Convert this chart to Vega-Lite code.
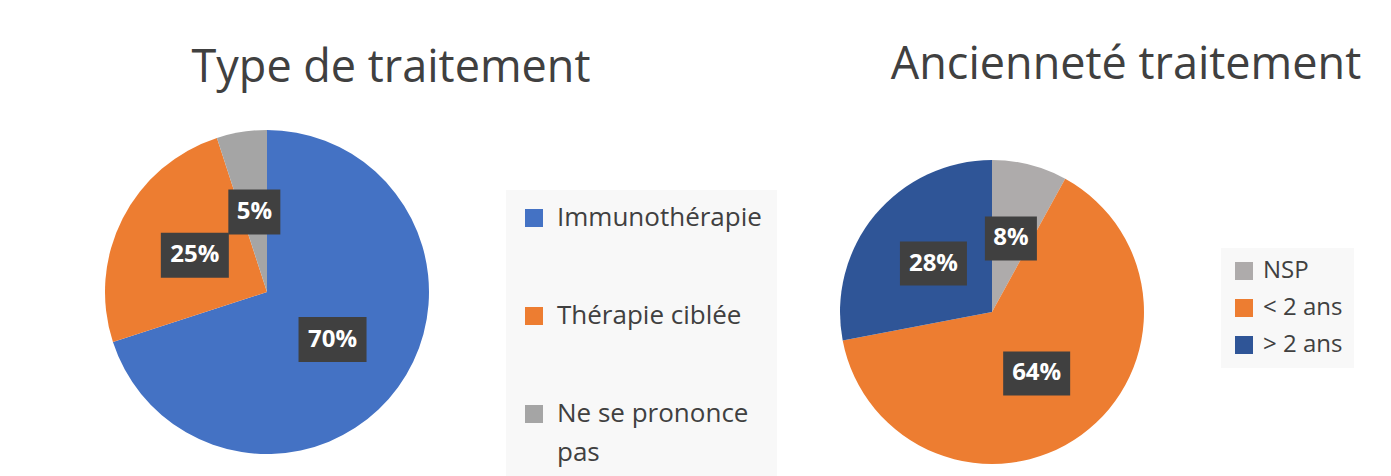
{
  "$schema": "https://vega.github.io/schema/vega-lite/v6.json",
  "background": "white",
  "padding": {"left": 105, "top": 43, "right": 0, "bottom": 0},
  "config": {"view": {"stroke": null}, "font": "Open Sans", "style": {"guide-label": {"lineHeight": 39}}},
  "spacing": 411,
  "bounds": "flush",
  "resolve": {"scale": {"color": "independent", "theta": "independent", "x": "independent", "y": "independent", "shape": "independent", "size": "independent"}, "legend": {"color": "independent"}},
  "hconcat": [
    {
      "width": 324,
      "height": 324,
      "title": {"text": "Type de traitement", "fontSize": 45, "font": "Open Sans", "fontWeight": "normal", "color": "#404040", "anchor": "middle", "frame": "group", "dx": 124, "baseline": "alphabetic", "offset": 3},
      "data": {"values": [
        {"categorie": "Immunothérapie", "part": 0.70, "ordre": 1},
        {"categorie": "Thérapie ciblée", "part": 0.25, "ordre": 2},
        {"categorie": "Ne se prononce pas", "part": 0.05, "ordre": 3}
      ]},
      "encoding": {
        "theta": {"field": "part", "type": "quantitative", "stack": true},
        "order": {"field": "ordre", "type": "quantitative"}
      },
      "layer": [
        {
          "mark": {"type": "arc", "outerRadius": 162},
          "encoding": {
            "color": {
              "field": "categorie", "type": "nominal",
              "scale": {"domain": ["Immunothérapie", "Thérapie ciblée", "Ne se prononce pas"], "range": ["#4472C4", "#ED7D31", "#A5A5A5"]},
              "legend": {
                "orient": "none", "legendX": 401, "legendY": 60, "title": null,
                "symbolType": "square", "symbolSize": 324, "symbolStrokeWidth": 0,
                "labelFontSize": 26, "labelFont": "Open Sans", "labelColor": "#404040",
                "fillColor": "#f8f8f8", "padding": 15, "rowPadding": 72, "labelOffset": 10, "labelLimit": 400,
                "labelExpr": "datum.label === 'Ne se prononce pas' ? ['Ne se prononce', 'pas'] : datum.label"
              }
            }
          }
        },
        {
          "transform": [
            {"joinaggregate": [{"op": "sum", "field": "part", "as": "total"}]},
            {"window": [{"op": "sum", "field": "part", "as": "cumul"}], "sort": [{"field": "ordre", "order": "ascending"}], "frame": [null, 0]},
            {"calculate": "2 * PI * (datum.cumul - datum.part / 2) / datum.total", "as": "angle"},
            {"calculate": "sin(datum.angle)", "as": "px"},
            {"calculate": "cos(datum.angle)", "as": "py"}
          ],
          "mark": {"type": "point", "filled": true, "color": "#404040", "opacity": 1, "strokeWidth": 0},
          "encoding": {
            "theta": null,
            "x": {"field": "px", "type": "quantitative", "scale": {"domain": [-2, 2], "nice": false, "zero": false}, "axis": null},
            "y": {"field": "py", "type": "quantitative", "scale": {"domain": [-2, 2], "nice": false, "zero": false}, "axis": null},
            "shape": {"condition": {"test": "datum.part < 0.1", "value": "M-1,-0.865L1,-0.865L1,0.865L-1,0.865Z"}, "value": "M-1,-0.662L1,-0.662L1,0.662L-1,0.662Z"},
            "size": {"condition": {"test": "datum.part < 0.1", "value": 2704}, "value": 4624}
          }
        },
        {
          "mark": {"type": "text", "font": "Open Sans", "fontWeight": "bold", "fontSize": 24, "color": "white", "baseline": "middle", "align": "center"},
          "encoding": {
            "radius": {"value": 81},
            "text": {"field": "part", "type": "quantitative", "format": ".0%"}
          }
        }
      ]
    },
    {
      "width": 304,
      "height": 364,
      "title": {"text": "Ancienneté traitement", "fontSize": 45, "font": "Open Sans", "fontWeight": "normal", "color": "#404040", "anchor": "middle", "frame": "group", "dx": 134, "baseline": "alphabetic", "offset": 6},
      "data": {"values": [
        {"categorie": "NSP", "part": 0.08, "ordre": 1},
        {"categorie": "< 2 ans", "part": 0.64, "ordre": 2},
        {"categorie": "> 2 ans", "part": 0.28, "ordre": 3}
      ]},
      "encoding": {
        "theta": {"field": "part", "type": "quantitative", "stack": true},
        "order": {"field": "ordre", "type": "quantitative"}
      },
      "layer": [
        {
          "mark": {"type": "arc", "outerRadius": 152},
          "encoding": {
            "color": {
              "field": "categorie", "type": "nominal",
              "scale": {"domain": ["NSP", "< 2 ans", "> 2 ans"], "range": ["#AEABAB", "#ED7D31", "#2F5597"]},
              "legend": {
                "orient": "none", "legendX": 381, "legendY": 118, "title": null,
                "symbolType": "square", "symbolSize": 324, "symbolStrokeWidth": 0,
                "labelFontSize": 24, "labelFont": "Open Sans", "labelColor": "#404040",
                "fillColor": "#f8f8f8", "padding": 11, "rowPadding": 13, "labelOffset": 7, "labelLimit": 400
              }
            }
          }
        },
        {
          "transform": [
            {"joinaggregate": [{"op": "sum", "field": "part", "as": "total"}]},
            {"window": [{"op": "sum", "field": "part", "as": "cumul"}], "sort": [{"field": "ordre", "order": "ascending"}], "frame": [null, 0]},
            {"calculate": "2 * PI * (datum.cumul - datum.part / 2) / datum.total", "as": "angle"},
            {"calculate": "sin(datum.angle)", "as": "px"},
            {"calculate": "cos(datum.angle)", "as": "py"}
          ],
          "mark": {"type": "point", "filled": true, "color": "#404040", "opacity": 1, "strokeWidth": 0},
          "encoding": {
            "theta": null,
            "x": {"field": "px", "type": "quantitative", "scale": {"domain": [-2, 2], "nice": false, "zero": false}, "axis": null},
            "y": {"field": "py", "type": "quantitative", "scale": {"domain": [-2.395, 2.395], "nice": false, "zero": false}, "axis": null},
            "shape": {"condition": {"test": "datum.part < 0.1", "value": "M-1,-0.846L1,-0.846L1,0.846L-1,0.846Z"}, "value": "M-1,-0.657L1,-0.657L1,0.657L-1,0.657Z"},
            "size": {"condition": {"test": "datum.part < 0.1", "value": 2704}, "value": 4489}
          }
        },
        {
          "mark": {"type": "text", "font": "Open Sans", "fontWeight": "bold", "fontSize": 24, "color": "white", "baseline": "middle", "align": "center"},
          "encoding": {
            "radius": {"value": 76},
            "text": {"field": "part", "type": "quantitative", "format": ".0%"}
          }
        }
      ]
    }
  ]
}
